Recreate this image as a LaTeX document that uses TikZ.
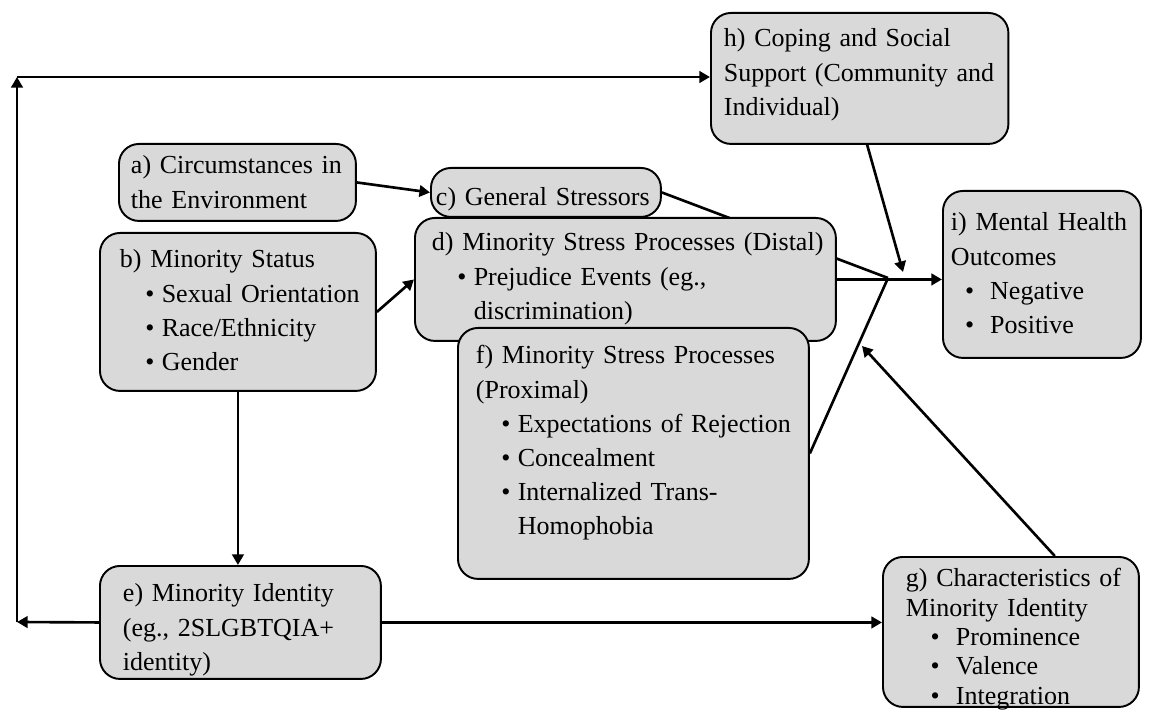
\documentclass[tikz,border=0pt]{standalone}
\usepackage{fontspec}
\setmainfont{Liberation Serif}
\usetikzlibrary{arrows.meta,backgrounds,calc}
\definecolor{boxGray}{HTML}{D9D9D9}
\newcommand{\blt}[1][14.4pt]{\\\hspace*{#1}\makebox[9.4pt][l]{\textbullet}}

\begin{document}
\begin{tikzpicture}[x=0.02cm, y=-0.02cm,
    box/.style={draw, fill=boxGray, line width=1.1pt, rounded corners=0.4cm,
      anchor=north west, align=left, inner xsep=0pt, inner ysep=0pt,
      font=\fontsize{14.8}{19.4}\selectfont},
    lpad/.style={execute at begin node={\leftskip=#1\relax\rightskip=-1cm plus 1fil\relax}},
    line/.style={line width=1.5pt},
    arr/.style={line, -{Triangle[length=6pt,width=6.5pt]}}]
  \useasboundingbox (0,0) rectangle (1156,712);
  % boxes, back to front
  \node[box, text width=5.95cm, text height=0.68cm, text depth=1.94cm, lpad=0.26cm] (h) at (710,12)
    {h) Coping and Social\\Support (Community and\\Individual)};
  \node[box, text width=4.74cm, text height=0.6cm, text depth=0.94cm, lpad=0.24cm] (a) at (118,143)
    {a) Circumstances in\\the Environment};
  \node[box, text width=4.6cm, text height=0.76cm, text depth=0.22cm, lpad=0.1cm] (c) at (430,167)
    {c) General Stressors};
  \node[box, text width=5.52cm, text height=0.7cm, text depth=2.46cm, lpad=0.4cm] (b) at (99,232)
    {b) Minority Status\blt Sexual Orientation\blt Race/Ethnicity\blt Gender};
  \node[box, text width=8.42cm, text height=0.66cm, text depth=1.8cm, lpad=0.34cm] (d) at (414,217)
    {d) Minority Stress Processes (Distal)\blt Prejudice Events (eg.,\\\hspace*{23.8pt}discrimination)};
  \node[box, text width=7.02cm, text height=0.72cm, text depth=4.3cm, lpad=0.36cm] (f) at (457,327)
    {f) Minority Stress Processes\\(Proximal)\blt Expectations of Rejection\blt Concealment\blt Internalized Trans-\\\hspace*{23.8pt}Homophobia};
  \node[box, text width=3.96cm, text height=0.8cm, text depth=2.54cm, lpad=0.16cm] (i) at (942,190)
    {i) Mental Health\\Outcomes\blt[8pt] Negative\blt[8pt] Positive};
  \node[box, text width=5.62cm, text height=0.72cm, text depth=1.54cm, lpad=0.46cm] (e) at (99,565)
    {e) Minority Identity\\(eg., 2SLGBTQIA+\\identity)};
  \node[box, text width=5.12cm, text height=0.6cm, text depth=2.4cm, lpad=0.46cm,
    font=\fontsize{14.8}{16.7}\selectfont] (g) at (882,556)
    {g) Characteristics of\\Minority Identity\blt[14.1pt] Prominence\blt[14.1pt] Valence\blt[14.1pt] Integration};
  % meeting points
  \coordinate (conv) at (888,278);
  \coordinate (hTip) at (903,272);
  \coordinate (gTip) at (862,346);
  \coordinate (loopBL) at (17,622);
  \coordinate (loopTL) at (17,77);
  % connectors
  \begin{scope}[on background layer]
    \draw[line] (c.east) -- (conv);
  \end{scope}
  \draw[arr] (a.east) -- (c.west);
  \draw[arr] (b.east) -- (d.west);
  \draw[arr] (b.south) -- (b.south |- e.north);
  \draw[arr] (d.east) -- (d.east -| i.west);
  \draw[line] (f.east) -- (conv);
  \draw[arr] ($(h.south west)!0.525!(h.south east)$) -- (hTip);
  \draw[arr] ($(g.north west)!0.67!(g.north east)$) -- (gTip);
  \draw[arr] (e.east) -- (e.east -| g.west);
  \draw[arr] (e.west) -- (loopBL);
  \draw[arr] (loopBL) -- (loopTL);
  \draw[arr] (loopTL) -- (loopTL -| h.west);
\end{tikzpicture}
\end{document}
